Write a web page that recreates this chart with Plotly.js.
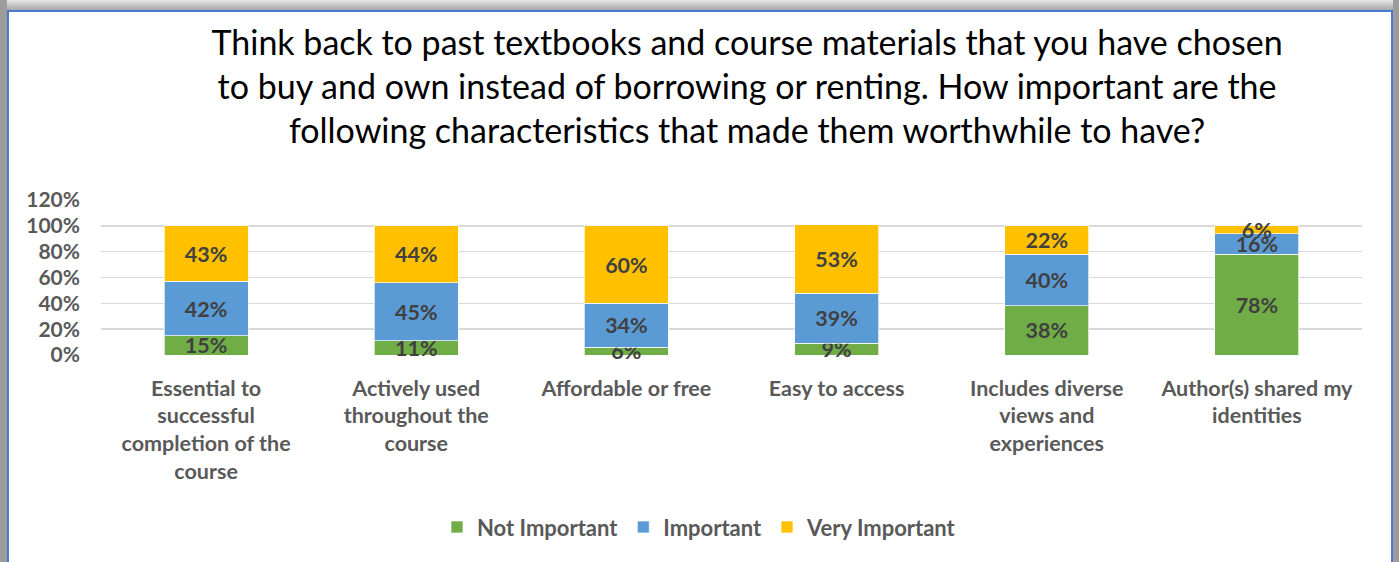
<!DOCTYPE html>
<html>
<head>
<meta charset="utf-8">
<script src="https://cdn.plot.ly/plotly-3.0.1.min.js"></script>
<style>
  html, body { margin: 0; padding: 0; width: 1399px; height: 562px; overflow: hidden;
    background: linear-gradient(to bottom, #e6e6e6 0px, #a8a8a8 10px); }
  #frame { position: absolute; left: 7px; top: 10px; width: 1386px; height: 560px;
    box-sizing: border-box; border: 2px solid #4a78cf; background: #ffffff; }
  #sideR { position: absolute; left: 1393px; top: 0; width: 6px; height: 562px; background: #9c9c9c; }
  #sideL { position: absolute; left: 0; top: 0; width: 7px; height: 562px; background: #9c9c9c; }
  #chart { position: absolute; left: 0; top: 0; width: 1399px; height: 562px; }
</style>
</head>
<body>
<div id="sideL"></div>
<div id="sideR"></div>
<div id="frame"></div>
<div id="chart"></div>
<script>
const categories = [
  "Essential to<br>successful<br>completion of the<br>course",
  "Actively used<br>throughout the<br>course",
  "Affordable or free",
  "Easy to access",
  "Includes diverse<br>views and<br>experiences",
  "Author(s) shared my<br>identities"
];
const notImportant  = [0.15, 0.11, 0.06, 0.09, 0.38, 0.78];
const important     = [0.42, 0.45, 0.34, 0.39, 0.40, 0.16];
const veryImportant = [0.43, 0.44, 0.60, 0.53, 0.22, 0.06];
const seriesNames = ["Not Important", "Important", "Very Important"];
const seriesColors = ["#70AD47", "#5B9BD5", "#FFC000"];
const titleText = "Think back to past textbooks and course materials that you have chosen<br>to buy and own instead of borrowing or renting. How important are the<br>following characteristics that made them worthwhile to have?";

const FONT = "Lato, 'Open Sans', sans-serif";
const seriesValues = [notImportant, important, veryImportant];
const traces = seriesValues.map((vals, i) => ({
  type: "bar",
  name: seriesNames[i],
  x: categories,
  y: vals,
  text: vals.map(v => Math.round(v * 100) + "%"),
  textposition: "inside",
  insidetextanchor: "middle",
  constraintext: "none",
  cliponaxis: false,
  textangle: 0,
  textfont: { family: FONT, size: 21.5, color: "#404040", weight: "bold" },
  marker: { color: seriesColors[i], line: { color: "rgba(255,255,255,0.7)", width: 1 } },
  hoverinfo: "none"
}));

const layout = {
  width: 1399, height: 562,
  paper_bgcolor: "rgba(0,0,0,0)",
  plot_bgcolor: "rgba(0,0,0,0)",
  barmode: "stack",
  bargap: 0.6,
  margin: { l: 101, r: 37, t: 200, b: 207, pad: 0 },
  font: { family: FONT, color: "#595959" },
  title: {
    text: titleText,
    font: { family: FONT, size: 34, color: "#000000" },
    x: 0.534, xref: "container", xanchor: "center",
    y: 0.903, yref: "container", yanchor: "middle"
  },
  xaxis: {
    tickfont: { family: FONT, size: 21.5, color: "#595959", weight: "bold" },
    showgrid: false, showline: false, ticks: "", fixedrange: true,
    automargin: false, tickangle: 0, ticklabelstandoff: 18
  },
  yaxis: {
    range: [0, 1.2], dtick: 0.2, tick0: 0, tickformat: ".0%",
    tickfont: { family: FONT, size: 21, color: "#595959", weight: "bold" },
    showgrid: true, gridcolor: "#d9d9d9", gridwidth: 1.5,
    zeroline: false,
    showline: false, ticks: "", ticklabelstandoff: 20, automargin: false
  },
  showlegend: true,
  legend: {
    orientation: "h", traceorder: "normal",
    x: 0.5, xref: "container", xanchor: "center",
    y: 0.062, yref: "container", yanchor: "middle",
    font: { family: FONT, size: 22, color: "#595959", weight: "bold" },
    itemwidth: 30, entrywidthmode: "pixels"
  }
};

Plotly.newPlot("chart", traces, layout, { displayModeBar: false, staticPlot: true });
</script>
</body>
</html>
